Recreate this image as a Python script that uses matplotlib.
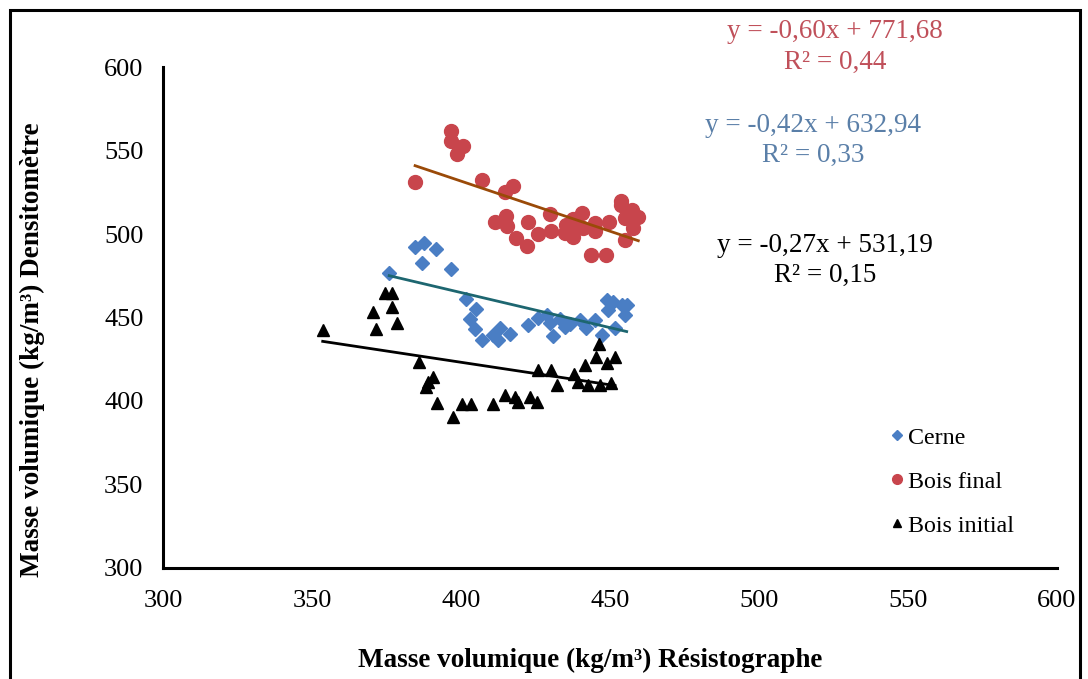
import matplotlib
matplotlib.use('Agg')
import matplotlib.pyplot as plt
import numpy as np
from matplotlib.patches import Rectangle

plt.rcParams['font.family'] = ['Liberation Serif', 'DejaVu Serif']

# Cerne
cerne_x = [375.9, 384.6, 387.6, 386.8, 391.6, 396.5, 401.7, 405.2, 403.0, 404.7,
           406.9, 410.8, 413.1, 412.5, 416.4, 422.6, 426.0, 428.7, 429.9, 431.0,
           433.2, 434.9, 436.6, 440.0, 442.1, 445.0, 447.2, 448.9, 449.4, 451.1,
           451.7, 453.9, 455.6, 455.0]
cerne_y = [476.8, 492.0, 494.8, 482.8, 491.0, 479.0, 460.9, 454.9, 448.9, 442.9,
           436.5, 439.5, 443.5, 436.5, 440.1, 445.5, 450.0, 451.5, 446.5, 438.9,
           448.9, 444.5, 446.0, 448.5, 443.5, 448.5, 439.5, 460.5, 454.5, 459.5,
           443.5, 457.5, 457.5, 451.5]

# Bois final
final_x = [384.6, 396.5, 396.5, 400.6, 398.7, 406.9, 417.6, 414.8, 411.4, 415.1,
           415.3, 422.6, 418.5, 422.2, 425.9, 429.9, 430.1, 434.9, 437.5, 437.5,
           440.5, 441.1, 445.0, 445.0, 449.8, 443.5, 448.7, 453.6, 453.6, 457.3,
           455.0, 459.5, 457.8, 455.0, 435.4, 438.0]
final_y = [531.3, 561.9, 555.9, 552.7, 547.9, 532.3, 528.7, 525.3, 507.4, 510.8,
           504.8, 507.4, 497.8, 492.8, 499.8, 511.8, 502.0, 500.8, 498.4, 508.8,
           512.4, 503.4, 506.8, 502.0, 507.4, 487.4, 487.4, 520.0, 517.4, 514.4,
           509.4, 510.0, 503.4, 496.4, 505.4, 506.0]

# Bois initial
initial_x = [353.6, 374.5, 377.0, 370.5, 376.7, 371.5, 378.4, 386.0, 390.7, 389.0,
             388.3, 391.8, 397.2, 400.2, 403.5, 410.6, 414.8, 418.1, 419.2, 423.2,
             425.6, 426.0, 430.1, 432.3, 437.9, 441.6, 446.4, 445.3, 448.9, 451.7,
             442.7, 446.6, 450.5, 439.3]
initial_y = [442.5, 464.5, 464.5, 453.5, 456.5, 442.9, 446.5, 423.5, 414.5, 411.5,
             408.2, 398.6, 390.6, 398.2, 398.2, 398.2, 403.6, 402.6, 399.6, 402.6,
             399.6, 418.6, 418.6, 409.6, 416.2, 421.6, 434.1, 426.2, 422.9, 426.5,
             409.6, 409.6, 411.0, 411.5]

# equations des droites de tendance (pente, ordonnee)
fit_cerne = (-0.42, 632.94)
fit_final = (-0.60, 771.68)
fit_initial = (-0.27, 531.19)

fig = plt.figure(figsize=(10.88, 6.79), dpi=100)
ax = fig.add_axes([0.1498, 0.1635, 0.8217, 0.7378])

ax.plot(cerne_x, cerne_y, 'D', color='#4A7EC4', markersize=7.5, label='Cerne', zorder=3)
ax.plot(final_x, final_y, 'o', color='#C8454C', markersize=10, label='Bois final', zorder=3)
ax.plot(initial_x, initial_y, '^', color='black', markersize=9, label='Bois initial', zorder=3)

for xs, fit, col in [(final_x, fit_final, '#9A4A08'),
                     (cerne_x, fit_cerne, '#1D6670'),
                     (initial_x, fit_initial, 'black')]:
    xx = np.array([min(xs), max(xs)])
    ax.plot(xx, fit[0] * xx + fit[1], color=col, linewidth=2, zorder=4)

ax.set_xlim(300, 600)
ax.set_ylim(300, 600)
ax.set_xticks(np.arange(300, 601, 50))
ax.set_yticks(np.arange(300, 601, 50))
ax.tick_params(length=0, labelsize=19)
ax.tick_params(axis='y', pad=14)
ax.tick_params(axis='x', pad=16)
for s in ['top', 'right']:
    ax.spines[s].set_visible(False)
for s in ['left', 'bottom']:
    ax.spines[s].set_linewidth(2.2)

fig.text(590 / 1088, 1 - 660 / 679, 'Masse volumique (kg/m³) Résistographe',
         ha='center', va='center', fontsize=19.5, fontweight='bold')
fig.text(32 / 1088, 1 - 350 / 679, 'Masse volumique (kg/m³) Densitomètre',
         ha='center', va='center', fontsize=19.5, fontweight='bold', rotation=90)

def eq_text(x, y, fit, r2, col):
    a, b = fit
    s = 'y = %sx + %s' % (('%.2f' % a).replace('.', ','), ('%.2f' % b).replace('.', ','))
    fig.text(x / 1088, 1 - y / 679, s, ha='center', va='center', fontsize=19.5, color=col)
    fig.text(x / 1088, 1 - (y + 30) / 679, 'R² = ' + r2, ha='center', va='center',
             fontsize=19.5, color=col)

eq_text(835, 32, fit_final, '0,44', '#C0505A')
eq_text(813, 125, fit_cerne, '0,33', '#5A7FA8')
eq_text(825, 245, fit_initial, '0,15', 'black')

ax.legend(loc='upper left', bbox_to_anchor=(886 / 1088, 1 - 427 / 679),
          bbox_transform=fig.transFigure, frameon=False, fontsize=17.3,
          handletextpad=0.0, handlelength=0.9, labelspacing=0.92, markerscale=0.7,
          borderaxespad=0, borderpad=0)

fig.add_artist(Rectangle((10 / 1088, -0.02), 1070 / 1088, 1 - 10 / 679 + 0.02,
                         transform=fig.transFigure, fill=False, edgecolor='black',
                         linewidth=2.2))

plt.savefig('out.png', dpi=100)
